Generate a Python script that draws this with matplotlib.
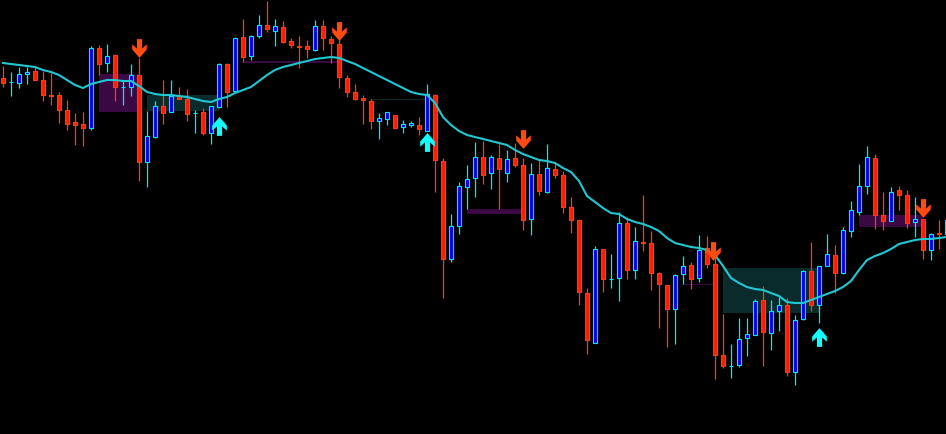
import numpy as np
import matplotlib
matplotlib.use("Agg")
from matplotlib import pyplot as plt
from matplotlib.path import Path
from matplotlib.patches import Rectangle

# price levels, top-down scale (smaller = higher price)
opens = [78, 82, 83, 74, 71, 80, 95, 95, 110, 122, 124, 128, 48, 63, 55, 87, 87, 75, 162, 137,
         106, 112, 96, 99, 113, 112, 133, 107, 64, 91, 37, 56, 36, 25, 31, 27, 41, 46, 46, 50,
         26, 39, 44, 78, 92, 98, 101, 121, 119, 115, 127, 125, 125, 131, 95, 161, 259, 226, 187, 178,
         157, 173, 158, 173, 158, 165, 219, 174, 192, 169, 175, 207, 220, 293, 343, 249, 279, 278, 223, 270,
         242, 243, 273, 285, 309, 274, 265, 278, 248, 264, 355, 366, 365, 338, 335, 300, 333, 311, 305, 372,
         319, 271, 305, 266, 255, 273, 231, 212, 186, 158, 215, 221, 190, 195, 222, 219, 250, 233, 234]
highs = [66, 72, 67, 67, 67, 71, 73, 92, 100, 113, 112, 46, 45, 44, 54, 80, 64, 58, 111, 101,
         80, 80, 87, 89, 110, 108, 106, 63, 63, 37, 19, 35, 15, 1, 19, 21, 38, 36, 40, 20,
         20, 36, 39, 75, 84, 95, 99, 113, 112, 115, 120, 121, 117, 84, 94, 158, 214, 182, 165, 142,
         141, 155, 144, 150, 143, 158, 163, 160, 144, 163, 171, 197, 220, 288, 246, 249, 254, 212, 217, 227,
         195, 231, 272, 285, 274, 256, 262, 235, 236, 253, 314, 344, 318, 318, 299, 286, 300, 297, 298, 315,
         270, 242, 266, 234, 245, 227, 201, 164, 146, 154, 192, 187, 186, 190, 197, 219, 233, 220, 218]
lows = [87, 96, 88, 84, 80, 101, 105, 123, 130, 145, 146, 130, 75, 72, 101, 105, 96, 181, 187, 138,
        124, 112, 99, 121, 133, 135, 144, 108, 107, 92, 62, 60, 38, 32, 46, 43, 48, 68, 58, 51,
        50, 63, 88, 97, 100, 124, 129, 139, 125, 128, 133, 127, 135, 131, 192, 298, 262, 234, 209, 197,
        184, 189, 209, 182, 167, 230, 235, 195, 193, 178, 213, 233, 305, 354, 343, 292, 288, 301, 279, 279,
        251, 290, 328, 347, 344, 284, 289, 282, 268, 379, 368, 378, 367, 356, 335, 366, 350, 331, 376, 385,
        320, 311, 323, 266, 293, 274, 237, 215, 194, 229, 230, 221, 210, 228, 237, 259, 260, 249, 240]
closes = [83, 81.5, 74, 72, 80, 95, 95.5, 110, 124, 125, 128, 48, 64, 56, 87, 86.5, 75, 162, 136, 106,
          113, 96, 99, 114, 112.5, 133, 106, 64, 92, 38, 57, 36, 25, 29, 26, 42, 45, 46.5, 49, 26,
          38, 43, 77, 92, 99, 100, 121, 118, 112, 128, 124, 123, 129, 94, 160, 259, 226, 186, 179, 157,
          175, 157, 169, 159, 165, 220, 174, 191, 168, 175, 207, 220, 292, 340, 249, 279, 278.5, 223, 270, 241,
          242.5, 273, 284, 309, 275, 266, 279, 250, 264, 355, 366, 365.5, 339, 334, 301, 332, 311, 305, 372, 320,
          271, 305, 266, 254, 273, 230, 210, 186, 157, 215, 221, 192, 195, 223, 219, 250, 234, 233.5, 220]

# moving average, one value per bar
ma = [63, 64, 65, 66, 67, 70, 72, 75, 80, 85, 88, 84, 82, 80, 80, 81, 81, 86, 92, 94,
      95, 95, 96, 97, 99, 101, 102, 99, 97, 93, 90, 87, 81, 75, 70, 67, 65, 63, 61, 59,
      58, 57, 58, 61, 64, 68, 72, 76, 80, 84, 88, 92, 94, 95, 103, 117, 125, 131, 135, 137,
      139, 141, 143, 145, 150, 154, 157, 160, 161, 163, 168, 172, 181, 196, 202, 208, 213, 214, 219, 222,
      224, 227, 231, 238, 243, 245, 247, 248, 250, 255, 266, 278, 283, 287, 289, 290, 293, 296, 302, 303,
      303, 300, 297, 294, 291, 287, 281, 270, 260, 256, 253, 249, 244, 242, 240, 239, 239, 238, 237]

# signals
sell_bar = [17, 42, 65, 88.75, 115]
sell_lvl = [48, 31, 139, 251, 208]
buy_bar = [27, 53, 102]
buy_lvl = [126, 142, 337]

# zones: start bar, end bar, top, bottom, kind
zone_start = [12, 18, 30, 46, 58, 85, 90, 107]
zone_end = [17, 27, 42, 53, 65, 89, 102, 115]
zone_top = [74, 95, 61, 98.5, 209, 283.5, 268, 215]
zone_bot = [112, 111, 63, 99.5, 214, 284.5, 313, 227]
zone_kind = ['s', 'b', 's', 'b', 's', 's', 'b', 's']

fig = plt.figure(figsize=(9.46, 4.34), dpi=100, facecolor='black')
ax = fig.add_axes([0, 0, 1, 1])
ax.set_facecolor('black')

for i in range(len(zone_start)):
    col = '#3a0842' if zone_kind[i] == 's' else '#0a2b2b'
    ax.add_patch(Rectangle((zone_start[i], zone_top[i]), zone_end[i] - zone_start[i],
                           zone_bot[i] - zone_top[i], facecolor=col, edgecolor='none', zorder=1))

x = np.arange(len(opens))
o = np.array(opens, float)
h = np.array(highs, float)
l = np.array(lows, float)
c = np.array(closes, float)
bull = c < o

wick_col = np.where(bull, '#00e8ff', '#ff3c10')
ax.vlines(x, h, l, colors=wick_col, linewidth=0.9, zorder=2)

body_top = np.minimum(o, c)
body_h = np.maximum(np.abs(o - c), 0.6)
face = np.where(bull, '#0000ff', '#ff1e00')
edge = np.where(bull, '#00e8ff', '#ff3c10')
ax.bar(x, body_h, bottom=body_top, width=0.62, color=face, edgecolor=edge,
       linewidth=0.8, zorder=3)

ax.plot(x, ma, color='#1fc8d2', linewidth=1.5, zorder=4)

arrow = [(-2.5, 9), (2.5, 9), (2.5, 0), (7, 4), (7, -1), (0, -9), (-7, -1), (-7, 4), (-2.5, 0), (-2.5, 9)]
down = Path(arrow, closed=True)
up = Path([(px, -py) for px, py in arrow], closed=True)
ax.plot(sell_bar, sell_lvl, linestyle='none', marker=down, markersize=13.5,
        color='#ff4a10', markeredgewidth=0, zorder=5)
ax.plot(buy_bar, buy_lvl, linestyle='none', marker=up, markersize=13.5,
        color='#10ffff', markeredgewidth=0, zorder=5)

ax.set_xlim(-0.375, -0.375 + 946 / 8)
ax.set_ylim(434, 0)
ax.axis('off')

fig.savefig('out.png', dpi=100, facecolor='black')
